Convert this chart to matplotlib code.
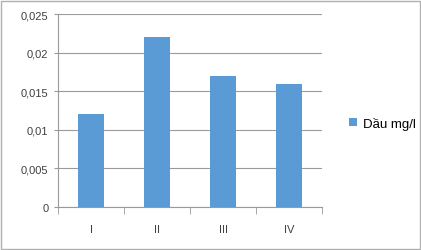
import matplotlib.pyplot as plt
from matplotlib.patches import Rectangle

categories = ["I", "II", "III", "IV"]
values = [0.012, 0.022, 0.017, 0.016]
series_name = "Dầu mg/l"
y_ticks = [0, 0.005, 0.01, 0.015, 0.02, 0.025]
y_labels = ["0", "0,005", "0,01", "0,015", "0,02", "0,025"]

plt.rcParams["font.family"] = ["Liberation Sans", "DejaVu Sans"]

fig = plt.figure(figsize=(4.21, 2.51), dpi=100)
ax = fig.add_axes([0.138, 0.171, 0.627, 0.769])

x = range(len(categories))
bars = ax.bar(x, values, width=0.4, color="#5B9BD5", label=series_name, zorder=3)

ax.set_xlim(-0.5, len(categories) - 0.5)
ax.set_ylim(0, 0.025)
ax.set_yticks(y_ticks)
ax.set_yticklabels(y_labels, fontsize=8, color="#404040")
ax.set_xticks(list(x))
ax.set_xticklabels(categories, fontsize=8, color="#404040")
ax.set_xticks([i - 0.5 for i in range(len(categories) + 1)], minor=True)

ax.grid(axis="y", color="#9A9A9A", linewidth=0.8, zorder=0)
for side in ["top", "right"]:
    ax.spines[side].set_visible(False)
ax.spines["left"].set_color("#9A9A9A")
ax.spines["bottom"].set_color("#9A9A9A")
ax.tick_params(axis="x", which="major", length=0, pad=12)
ax.tick_params(axis="x", which="minor", length=5, color="#9A9A9A")
ax.tick_params(axis="y", length=3, color="#9A9A9A", pad=4)

fig.legend(handles=[bars], labels=[series_name], loc="center left",
           bbox_to_anchor=(0.80, 0.505), frameon=False, fontsize=9.5,
           handlelength=0.6, handleheight=0.6, handletextpad=0.5)

fig.patches.append(Rectangle((0.002, 0.004), 0.995, 0.99, transform=fig.transFigure,
                             fill=False, edgecolor="#B0B0B0", linewidth=1))

fig.savefig("out.png", dpi=100)
